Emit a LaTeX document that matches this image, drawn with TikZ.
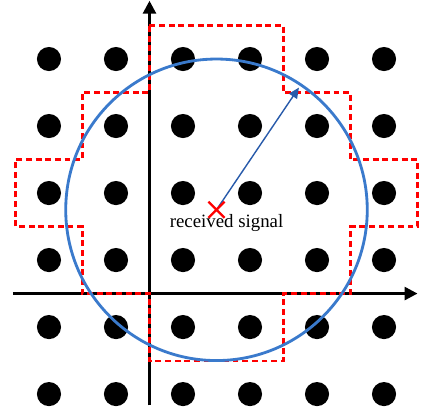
\documentclass[tikz,border=0pt]{standalone}
\usepackage{fontspec}
\setmainfont{Liberation Serif}
\usetikzlibrary{arrows.meta,calc}
\definecolor{circblue}{RGB}{58,122,204}
\definecolor{arrblue}{RGB}{40,90,170}
\begin{document}
\begin{tikzpicture}[
  dot/.style={circle,fill=black,inner sep=0pt,minimum size=0.36cm},
  axis/.style={line width=1.2pt,-{Triangle[length=5.5pt,width=5.5pt]}},
  region/.style={red,dashed,line width=0.9pt,dash pattern=on 2.5pt off 1.6pt}
]
\useasboundingbox (-2.231,-1.799) rectangle (4.052,4.381);

% constellation points
\foreach \i in {-2,...,3}
  \foreach \j in {-2,...,3}
    \node[dot] (p\i\j) at (\i+0.5,\j+0.5) {};

% axes
\coordinate (xl) at (-2.04,0);
\coordinate (xr) at (4.0,0);
\coordinate (yb) at (0,-1.67);
\coordinate (yt) at (0,4.37);
\draw[axis] (xl) -- (xr);
\draw[axis] (yb) -- (yt);

% decision region
\draw[region] (0,4) -- (2,4) -- (2,3) -- (3,3) -- (3,2) -- (4,2) -- (4,1)
  -- (3,1) -- (3,0) -- (2,0) -- (2,-1) -- (0,-1) -- (0,0) -- (-1,0) -- (-1,1)
  -- (-2,1) -- (-2,2) -- (-1,2) -- (-1,3) -- (0,3) -- cycle;

% search sphere
\coordinate (rx) at (1,1.25);
\draw[circblue,line width=1.2pt] (rx) circle (2.25);
\coordinate (rim) at ($(rx)+(56:2.2)$);
\draw[arrblue,line width=0.6pt,-{Triangle[length=4.5pt,width=4pt]}] (rx) -- (rim);

% received signal
\draw[red,line width=1pt] ([shift={(-0.12,-0.12)}]rx) -- ([shift={(0.12,0.12)}]rx)
  ([shift={(-0.12,0.12)}]rx) -- ([shift={(0.12,-0.12)}]rx);
\node[font=\fontsize{8}{9.6}\selectfont,inner sep=0pt] (lbl) at (1.15,1.05) {received signal};

\end{tikzpicture}
\end{document}
